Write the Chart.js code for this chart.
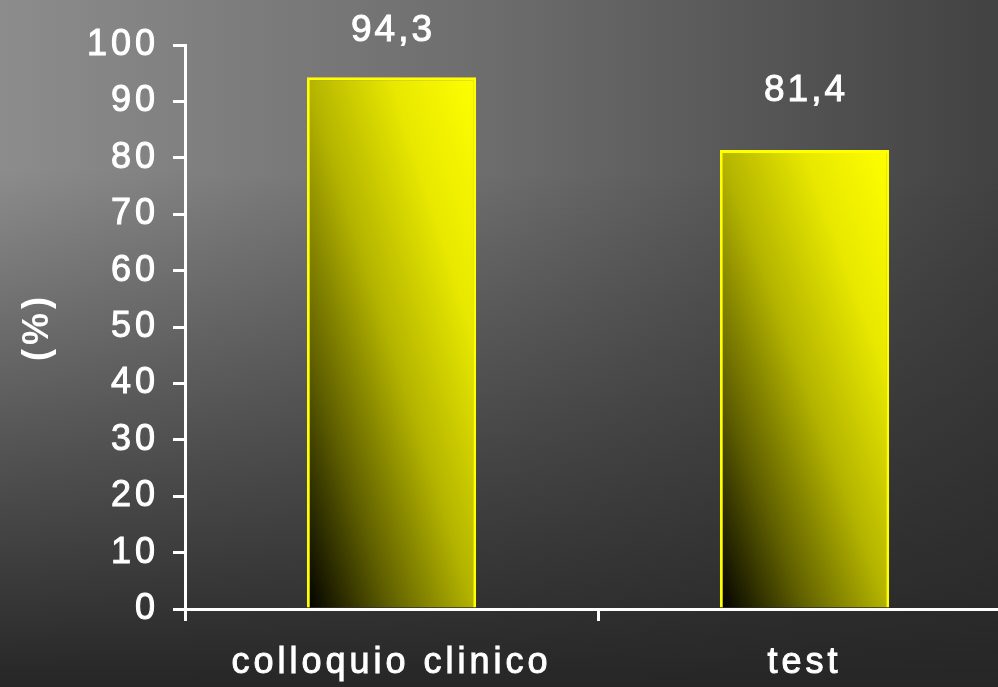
<!DOCTYPE html>
<html lang="it">
<head>
<meta charset="utf-8">
<title>Colloquio clinico vs test</title>
<script src="https://cdn.jsdelivr.net/npm/chart.js@4.4.1/dist/chart.umd.min.js"></script>
<style>
  html, body {
    margin: 0;
    padding: 0;
    width: 998px;
    height: 687px;
    overflow: hidden;
  }
  body {
    background:
      linear-gradient(to bottom, rgba(38,38,38,0) 25%, rgba(38,38,38,0.55) 65%, rgba(38,38,38,1) 100%),
      linear-gradient(to right, #8c8c8c 0%, #6c6c6c 50%, #424242 100%);
  }
  #wrap {
    position: absolute;
    left: 0;
    top: 0;
  }
</style>
</head>
<body>
<div id="wrap"><canvas id="barChart" width="1011" height="687"></canvas></div>
<script>
// categories and percentages shown on the chart
const categories = ['colloquio clinico', 'test'];
const percentages = [94.3, 81.4];
const yMin = 0;
const yMax = 100;
const yStep = 10;

const FONT = 'Liberation Sans, Arial, Helvetica, sans-serif';
const BAR_PCT = 0.41;
const TRACKING = '4px';

// wider tracking for every piece of text on the canvas
const letterSpacingPlugin = {
    id: 'letterSpacing',
    beforeDraw(chart) {
        chart.ctx.letterSpacing = TRACKING;
    }
};

// diagonal black -> yellow fill, bottom-left to top-right of each bar
function barGradient(context) {
    const chart = context.chart;
    const xs = chart.scales.x;
    const ys = chart.scales.y;
    if (!chart.chartArea || !xs || !ys || context.raw === undefined) return '#c8c800';
    const cx = xs.getPixelForValue(context.dataIndex);
    const w = (xs.width / categories.length) * BAR_PCT;
    const top = ys.getPixelForValue(context.raw);
    const base = ys.getPixelForValue(0);
    const h = Math.abs(base - top);
    const left = cx - w / 2;
    if (!w || !h) return '#c8c800';
    // gradient axis perpendicular to the other diagonal, so corners TL/BR sit at the midpoint
    const s = 2 * w * h / (w * w + h * h);
    const g = chart.ctx.createLinearGradient(left, base, left + s * h, base - s * w);
    g.addColorStop(0, '#000000');
    g.addColorStop(0.25, '#606000');
    g.addColorStop(0.5, '#b4b400');
    g.addColorStop(0.75, '#e8e800');
    g.addColorStop(1, '#ffff00');
    return g;
}

// value labels above the bars, comma as decimal separator
const valueLabels = {
    id: 'valueLabels',
    afterDatasetsDraw(chart) {
        const ctx = chart.ctx;
        const meta = chart.getDatasetMeta(0);
        ctx.save();
        ctx.letterSpacing = '3px';
        ctx.font = '37px ' + FONT;
        ctx.fillStyle = '#ffffff';
        ctx.strokeStyle = '#ffffff';
        ctx.lineWidth = 1;
        ctx.textAlign = 'center';
        ctx.textBaseline = 'alphabetic';
        meta.data.forEach((bar, i) => {
            const text = percentages[i].toFixed(1).replace('.', ',');
            // keep the label inside the top edge of the canvas
            const y = Math.max(bar.y - 49, 41);
            ctx.fillText(text, bar.x + 1.5, y);
            ctx.strokeText(text, bar.x + 1.5, y);
        });
        ctx.restore();
    }
};

const tickFont = { family: FONT, size: 36 };

const canvas = document.getElementById('barChart');
const chart = new Chart(canvas.getContext('2d'), {
    type: 'bar',
    data: {
        labels: categories,
        datasets: [{
            data: percentages,
            backgroundColor: barGradient,
            borderColor: '#ffff00',
            borderWidth: 3,
            borderSkipped: 'start',
            categoryPercentage: 1,
            barPercentage: BAR_PCT
        }]
    },
    options: {
        responsive: false,
        devicePixelRatio: 1,
        animation: false,
        layout: { padding: { top: 45, right: 0, bottom: 0, left: 0 } },
        plugins: {
            legend: { display: false },
            tooltip: { enabled: false }
        },
        scales: {
            x: {
                afterFit(scale) { scale.height = 78; },
                border: { display: true, color: '#ffffff', width: 3 },
                grid: {
                    offset: true,
                    drawOnChartArea: false,
                    drawTicks: true,
                    tickLength: 12,
                    tickColor: '#ffffff',
                    tickWidth: 3,
                    lineWidth: 3
                },
                ticks: {
                    color: '#ffffff',
                    textStrokeColor: '#ffffff',
                    textStrokeWidth: 1,
                    font: tickFont,
                    padding: 20,
                    maxRotation: 0,
                    autoSkip: false
                }
            },
            y: {
                min: yMin,
                max: yMax,
                afterFit(scale) { scale.width = 185; },
                border: { display: true, color: '#ffffff', width: 3 },
                grid: {
                    drawOnChartArea: false,
                    drawTicks: true,
                    tickLength: 12,
                    tickColor: '#ffffff',
                    tickWidth: 3,
                    lineWidth: 3
                },
                ticks: {
                    stepSize: yStep,
                    color: '#ffffff',
                    textStrokeColor: '#ffffff',
                    textStrokeWidth: 1,
                    font: tickFont,
                    padding: 14
                },
                title: {
                    display: true,
                    text: '(%)',
                    color: '#ffffff',
                    font: { family: FONT, size: 36, weight: 'bold' },
                    padding: { top: 16, bottom: 0 }
                }
            }
        }
    },
    plugins: [letterSpacingPlugin, valueLabels]
});
</script>
</body>
</html>
